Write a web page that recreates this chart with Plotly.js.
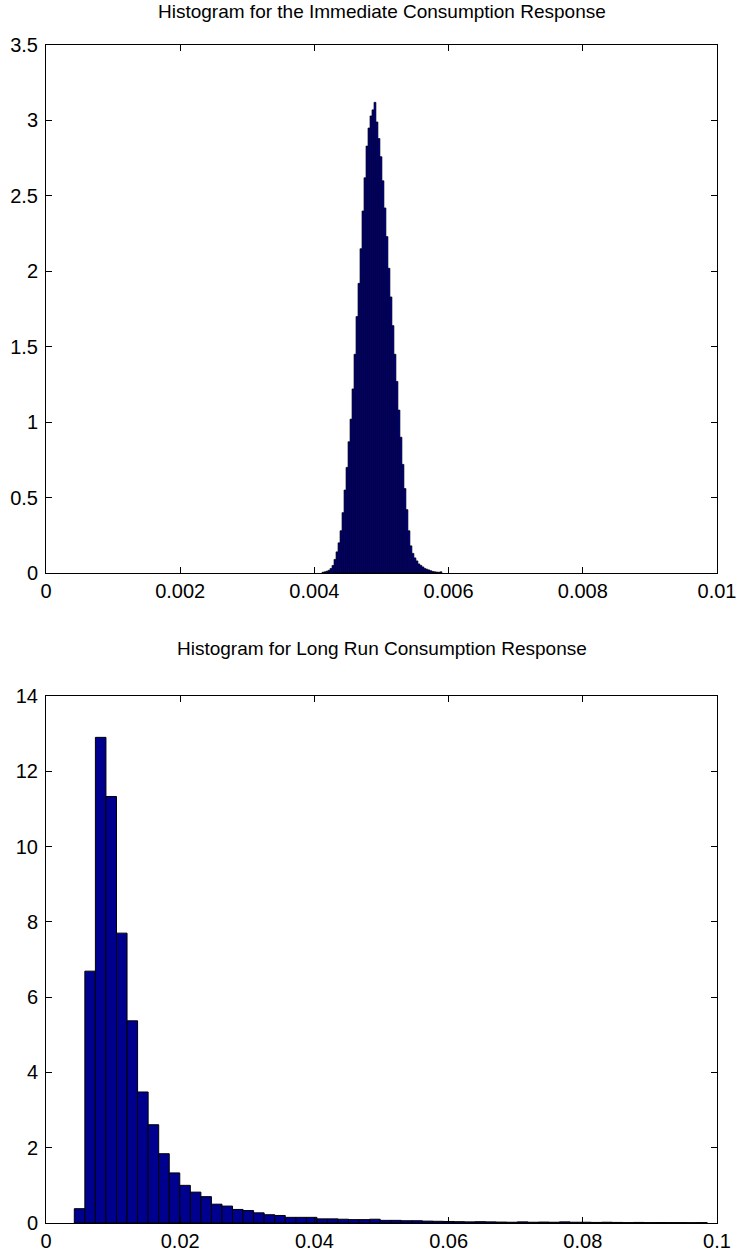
<!DOCTYPE html>
<html><head><meta charset="utf-8">
<script src="https://cdn.plot.ly/plotly-3.0.1.min.js"></script>
<style>html,body{margin:0;padding:0;background:#fff}#chart{width:737px;height:1253px}</style>
</head><body><div id="chart"></div>
<script>
const topTitle = "Histogram for the Immediate Consumption Response";
const bottomTitle = "Histogram for Long Run Consumption Response";

// Immediate response histogram: bins of equal width
const topBinStart = 0.004113;
const topBinWidth = 0.0000298;
const topCounts = [0.005,0.008,0.012,0.018,0.03,0.05,0.09,0.14,0.20,0.28,
  0.40,0.55,0.70,0.87,1.02,1.22,1.45,1.70,1.92,2.15,
  2.40,2.62,2.83,2.95,3.03,3.07,3.12,2.99,2.88,2.76,
  2.60,2.42,2.23,2.02,1.83,1.64,1.45,1.27,1.08,0.90,
  0.72,0.56,0.42,0.28,0.18,0.13,0.10,0.08,0.06,0.05,
  0.04,0.03,0.025,0.02,0.015,0.01,0.008,0.006,0.005,0.008];

// Long-run response histogram
const bottomBinStart = 0.004218;
const bottomBinWidth = 0.001572;
const bottomCounts = [0.38,6.69,12.90,11.33,7.70,5.37,3.48,2.61,1.84,1.33,
  1.00,0.82,0.70,0.50,0.45,0.36,0.33,0.27,0.22,0.20,
  0.15,0.15,0.15,0.11,0.11,0.10,0.09,0.09,0.10,0.07,
  0.07,0.06,0.06,0.05,0.045,0.04,0.035,0.03,0.035,0.03,
  0.025,0.02,0.03,0.02,0.025,0.02,0.03,0.02,0.02,0.015,
  0.02,0.015,0.01,0.015,0.01,0.012,0.01,0.01,0.008,0.01];

const topXTicks = [0,0.002,0.004,0.006,0.008,0.01];
const topXLabels = ["0","0.002","0.004","0.006","0.008","0.01"];
const topYTicks = [0,0.5,1,1.5,2,2.5,3,3.5];
const topYLabels = ["0","0.5","1","1.5","2","2.5","3","3.5"];
const bottomXTicks = [0,0.02,0.04,0.06,0.08,0.1];
const bottomXLabels = ["0","0.02","0.04","0.06","0.08","0.1"];
const bottomYTicks = [0,2,4,6,8,10,12,14];
const bottomYLabels = ["0","2","4","6","8","10","12","14"];

const centers = (start, w, n) => Array.from({length:n}, (_, i) => start + (i + 0.5) * w);

const FONT = "Liberation Sans, Arial, Helvetica, sans-serif";
const traces = [
  {type:'bar', x:centers(topBinStart, topBinWidth, topCounts.length), y:topCounts,
   width:topBinWidth, xaxis:'x', yaxis:'y',
   marker:{color:'#00008F', line:{color:'#000000', width:0.6}}, hoverinfo:'x+y'},
  {type:'bar', x:centers(bottomBinStart, bottomBinWidth, bottomCounts.length), y:bottomCounts,
   width:bottomBinWidth, xaxis:'x2', yaxis:'y2',
   marker:{color:'#00008F', line:{color:'#000000', width:1}}, hoverinfo:'x+y'}
];

const axisBase = {showline:true, linecolor:'#000', linewidth:1, mirror:'ticks',
  ticks:'inside', ticklen:6, tickwidth:1, tickcolor:'#000', showgrid:false, zeroline:false,
  tickfont:{family:FONT, size:20, color:'#000'}, fixedrange:true};

const layout = {
  width:737, height:1253, paper_bgcolor:'#fff', plot_bgcolor:'#fff',
  margin:{l:46, r:20, t:45, b:30}, showlegend:false, bargap:0,
  xaxis:Object.assign({}, axisBase, {domain:[0,1], range:[0,0.01], anchor:'y',
    tickmode:'array', tickvals:topXTicks, ticktext:topXLabels}),
  yaxis:Object.assign({}, axisBase, {domain:[0.5518,1], range:[0,3.5], anchor:'x',
    tickmode:'array', tickvals:topYTicks, ticktext:topYLabels, ticklabelstandoff:3}),
  xaxis2:Object.assign({}, axisBase, {domain:[0,1], range:[0,0.1], anchor:'y2',
    tickmode:'array', tickvals:bottomXTicks, ticktext:bottomXLabels}),
  yaxis2:Object.assign({}, axisBase, {domain:[0,0.4474], range:[0,14], anchor:'x2',
    tickmode:'array', tickvals:bottomYTicks, ticktext:bottomYLabels, ticklabelstandoff:3}),
  annotations:[
    {text:topTitle, xref:'paper', x:0.5, yref:'y domain', y:1, yanchor:'bottom', yshift:21,
     showarrow:false, font:{family:FONT, size:19, color:'#000'}},
    {text:bottomTitle, xref:'paper', x:0.5, yref:'y2 domain', y:1, yanchor:'bottom', yshift:35,
     showarrow:false, font:{family:FONT, size:19, color:'#000'}}
  ]
};

Plotly.newPlot('chart', traces, layout, {staticPlot:true, displayModeBar:false});
</script>
</body></html>
